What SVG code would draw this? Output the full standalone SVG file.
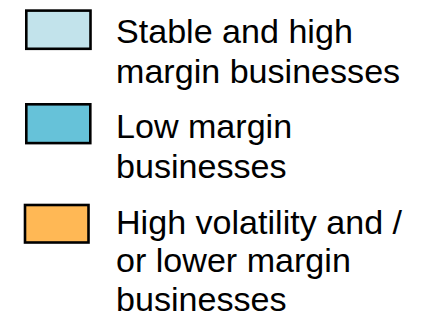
<svg xmlns="http://www.w3.org/2000/svg" width="426" height="321" viewBox="0 0 426 321">
<style>
.sw{stroke:#000;stroke-width:2.6}
.t{font-family:"Liberation Sans",Arial,sans-serif;font-size:34.1px;fill:#000}
</style>
<rect width="426" height="321" fill="#fff"/>
<g id="legend-stable">
<rect class="sw" x="26.3" y="10.6" width="64.2" height="38.2" fill="#C2E3EB"/>
<text class="t" x="116" y="42.5">Stable and high</text>
<text class="t" x="116" y="82.5">margin businesses</text>
</g>
<g id="legend-low">
<rect class="sw" x="26.3" y="104.3" width="64" height="38.8" fill="#66C2D9"/>
<text class="t" x="116" y="137.5">Low margin</text>
<text class="t" x="116" y="177.8">businesses</text>
</g>
<g id="legend-volatile">
<rect class="sw" x="25" y="205" width="63.5" height="37.5" fill="#FFB855"/>
<text class="t" x="116" y="234.3">High volatility and /</text>
<text class="t" x="116" y="272.4">or lower margin</text>
<text class="t" x="116" y="310.5">businesses</text>
</g>
<g id="connectors"/>
</svg>
